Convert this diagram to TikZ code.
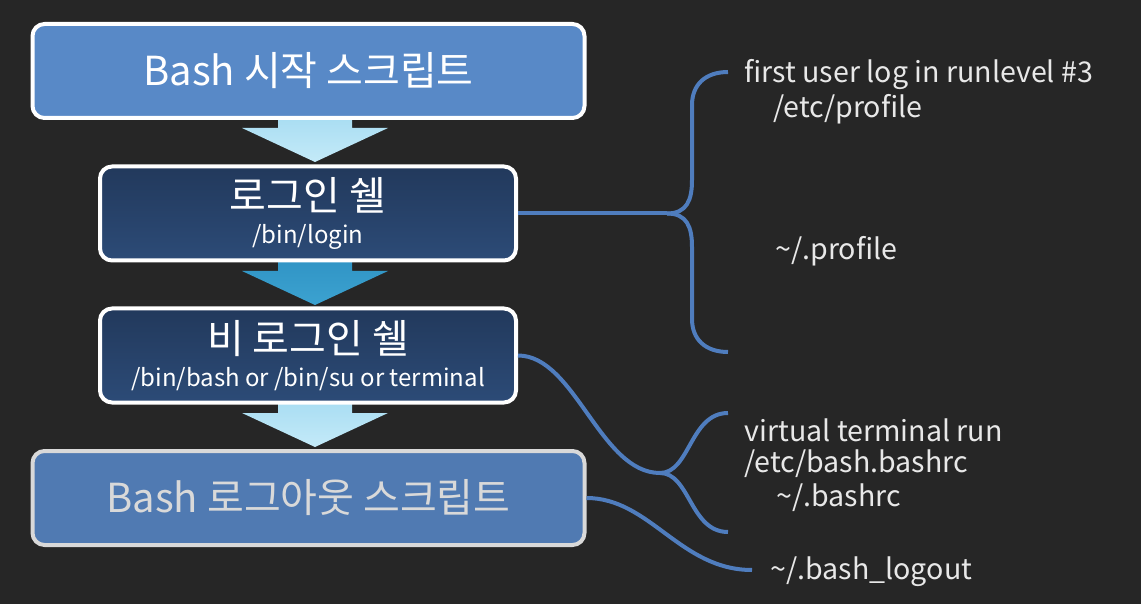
\documentclass[tikz,border=0pt]{standalone}
\usepackage{fontspec}
\setmainfont{Noto Sans CJK KR}
\definecolor{bgdark}{HTML}{262626}
\definecolor{startblue}{HTML}{5889C7}
\definecolor{shelltop}{HTML}{22395C}
\definecolor{shellbot}{HTML}{2C4B77}
\definecolor{endblue}{HTML}{507AB2}
\definecolor{linkblue}{HTML}{4F7DBE}
\definecolor{notegray}{HTML}{E8E8E8}
\definecolor{paletop}{HTML}{A6DCF2}
\definecolor{palebot}{HTML}{C4EAF8}
\definecolor{deeptop}{HTML}{2F93C4}
\definecolor{deepbot}{HTML}{3CA2D0}
\newcommand{\titlesize}{\fontsize{20}{24}\selectfont}
\newcommand{\subsize}{\fontsize{12}{14}\selectfont}
\newcommand{\flowarrow}[3]{%
  \shade[top color=#2,bottom color=#3] (278,#1) -- (352,#1) -- (352,#1+16)
    -- (388,#1+16) -- (315,#1+50) -- (242,#1+16) -- (278,#1+16) -- cycle;}

\begin{document}
\begin{tikzpicture}[x=0.5pt,y=-0.5pt,
  box/.style={line width=2pt,rounded corners=6pt,align=center,inner sep=0pt},
  wide/.style={box,minimum width=276pt,minimum height=47pt},
  narrow/.style={box,draw=white,text=white,top color=shelltop,bottom color=shellbot,
    minimum width=208pt,minimum height=47pt},
  link/.style={draw=linkblue,line width=2pt},
  note/.style={anchor=west,text=notegray,inner sep=0pt,font=\fontsize{14.3}{17}\selectfont}]
  \fill[bgdark] (0,0) rectangle (1141,604);

  \flowarrow{112}{paletop}{palebot}
  \flowarrow{255}{deeptop}{deepbot}
  \flowarrow{397}{paletop}{palebot}

  \node[wide,draw=white,fill=startblue,text=white,font=\titlesize] (start) at (308.5,71) {Bash 시작 스크립트};
  \node[narrow] (login) at (308,213.5) {{\titlesize 로그인 쉘}\\[4.5pt]{\subsize /bin/login}};
  \node[narrow] (nonlogin) at (308,355.5) {{\titlesize 비 로그인 쉘}\\[4.5pt]{\subsize /bin/bash or /bin/su or terminal}};
  \node[wide,draw=black!15,fill=endblue,text=black!15,font=\titlesize] (logout) at (308.5,498) {Bash 로그아웃 스크립트};

  \node[note] (runlevel) at (744,75) {first user log in runlevel \#3};
  \node[note] (etcprofile) at (773,109) {/etc/profile};
  \node[note] (homeprofile) at (775,251) {\textasciitilde/.profile};
  \node[note] (vterm) at (744,430) {virtual terminal run};
  \node[note] (etcbashrc) at (744,464) {/etc/bash.bashrc};
  \node[note] (homebashrc) at (776,498) {\textasciitilde/.bashrc};
  \node[note] (bashlogout) at (770,572) {\textasciitilde/.bash\_logout};

  \coordinate (tip1) at (667,213.5);
  \coordinate (tip2) at (660,473);
  \coordinate (end3) at (752,570);
  \draw[link] (login.east) -- (tip1);
  \draw[link] (tip1) .. controls (687,213.5) and (692,200) .. (692,180) -- (692,105)
    .. controls (692,85) and (705,72) .. (728,72);
  \draw[link] (tip1) .. controls (687,213.5) and (692,227) .. (692,247) -- (692,319)
    .. controls (692,339) and (705,352) .. (728,352);
  \draw[link] (nonlogin.east) .. controls (575,355.5) and (600,473) .. (tip2);
  \draw[link] (tip2) .. controls (690,473) and (690,413) .. (728,413);
  \draw[link] (tip2) .. controls (690,473) and (690,532) .. (728,532);
  \draw[link] (logout.east) .. controls (650,498) and (680,570) .. (end3);
\end{tikzpicture}
\end{document}
